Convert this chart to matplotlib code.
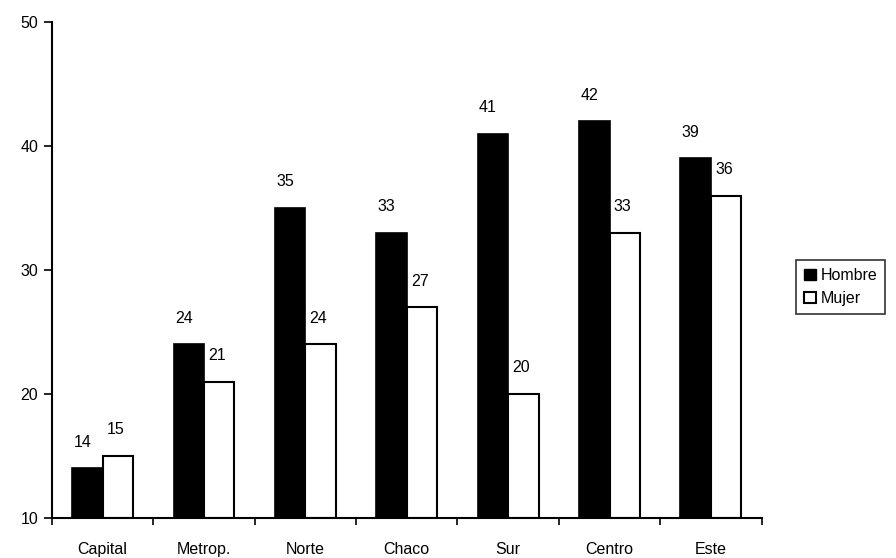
import matplotlib
matplotlib.use("Agg")
import matplotlib.pyplot as plt
import numpy as np
from matplotlib.patches import Patch

categories = ["Capital", "Metrop.", "Norte", "Chaco", "Sur", "Centro", "Este"]
hombre = [14, 24, 35, 33, 41, 42, 39]
mujer = [15, 21, 24, 27, 20, 33, 36]
yticks = [10, 20, 30, 40, 50]

plt.rcParams['font.family'] = ['Liberation Sans', 'DejaVu Sans']
fs = 11.5

fig = plt.figure(figsize=(8.96, 5.58), dpi=100)
ax = fig.add_axes([0.058, 0.0717, 0.792, 0.889])

x = np.arange(len(categories))
w = 0.3
ax.bar(x - w/2, np.array(hombre) - 10, w, bottom=10, color='black', edgecolor='black', linewidth=1.2)
ax.bar(x + w/2, np.array(mujer) - 10, w, bottom=10, color='white', edgecolor='black', linewidth=1.5)

for xi, v in zip(x, hombre):
    ax.text(xi - w/2 - 0.05, v + 1.5, str(v), ha='center', va='bottom', fontsize=fs)
for xi, v in zip(x, mujer):
    ax.text(xi + w/2 - 0.02, v + 1.5, str(v), ha='center', va='bottom', fontsize=fs)

ax.set_xlim(-0.5, len(categories) - 0.5)
ax.set_ylim(10, 50)
ax.set_yticks(yticks)
ax.set_yticklabels([str(t) for t in yticks], fontsize=fs)
ax.set_xticks(x)
ax.set_xticklabels(categories, fontsize=fs)
ax.tick_params(axis='x', length=0, pad=17)
ax.set_xticks(np.arange(-0.5, len(categories) + 0.5, 1), minor=True)
ax.tick_params(axis='x', which='minor', length=5, width=1.2, direction='out')
ax.tick_params(axis='y', length=6, width=1.2, direction='out', pad=4)

for s in ['top', 'right']:
    ax.spines[s].set_visible(False)
for s in ['left', 'bottom']:
    ax.spines[s].set_linewidth(1.5)

handles = [Patch(facecolor='black', edgecolor='black', label='Hombre'),
           Patch(facecolor='white', edgecolor='black', linewidth=1.5, label='Mujer')]
leg = fig.legend(handles=handles, loc='upper left', bbox_to_anchor=(0.880, 0.548),
                 fontsize=fs, frameon=True, fancybox=False, edgecolor='black',
                 handlelength=0.7, handleheight=0.7, handletextpad=0.3,
                 borderpad=0.5, labelspacing=0.5)
leg.get_frame().set_linewidth(1.2)

fig.savefig("out.png", dpi=100)
